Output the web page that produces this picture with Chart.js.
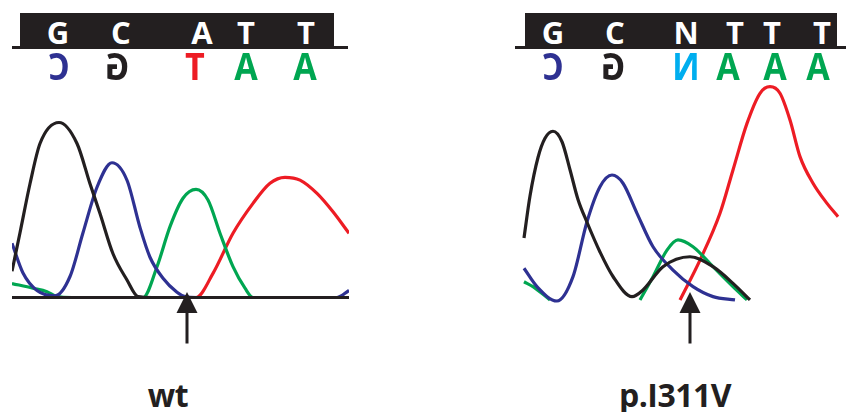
<!DOCTYPE html>
<html><head><meta charset="utf-8">
<script src="https://cdn.jsdelivr.net/npm/chart.js@4.4.0/dist/chart.umd.min.js"></script>
<style>
html,body{margin:0;padding:0;background:#fff;}
#root{position:relative;width:846px;height:412px;overflow:hidden;font-family:"Open Sans",sans-serif;font-weight:700;}
.cv{position:absolute;}
.bar{position:absolute;background:#231f20;}
.lt{position:absolute;line-height:1;white-space:nowrap;}
.top{font-size:31px;top:16.5px;color:#fff;transform:translateX(-50%);}
.bot{font-size:34px;top:48px;transform:translateX(-50%) scale(-1,1.12);}
.lbl{position:absolute;font-size:32px;line-height:1;top:378.6px;color:#231f20;transform:translateX(-50%);white-space:nowrap;letter-spacing:-0.5px;}
</style>
</head><body>
<div id="root">
  <div class="bar" style="left:20px;top:13px;width:314px;height:34px"></div>
  <div class="bar" style="left:12px;top:46px;width:336px;height:3px"></div>
  <div class="bar" style="left:525px;top:13px;width:312px;height:34px"></div>
  <div class="bar" style="left:515px;top:46px;width:331px;height:3px"></div>
  <canvas id="cL" class="cv" width="337" height="280" style="left:12px;top:70px"></canvas>
  <canvas id="cR" class="cv" width="346" height="280" style="left:500px;top:70px"></canvas>
  <div class="lbl" style="left:168px">wt</div>
  <div class="lbl" style="left:675px">p.I311V</div>
</div>
<script>
// ---- Base calls (sequence letters) and their scan positions ----
const wtTopBases = ['G','C','A','T','T'];
const wtTopPos   = [46, 109, 190, 234, 294];
const wtBotBases = ['C','G','T','A','A'];
const wtBotPos   = [47, 105, 183, 234, 293];

const mutTopBases = ['G','C','N','T','T','T'];
const mutTopPos   = [53, 115, 186, 235, 272, 322];
const mutBotBases = ['C','G','N','A','A','A'];
const mutBotPos   = [53, 113, 186, 228, 275, 318];

// ---- wt trace (scan position, signal intensity) ----
const wtBlackX = [0, 8, 18, 28, 47, 65, 78, 88, 101, 115, 126, 140, 337];
const wtBlackY = [15, 37, 65, 88, 100, 88, 65, 48, 25, 10, 0.5, 0, 0];
const wtBlueX  = [0, 11, 25, 43, 58, 71, 85, 100, 115, 128, 138, 151, 165, 173, 185, 325, 337];
const wtBlueY  = [31, 14, 4, 1, 12, 37, 63, 77, 67, 40, 23, 11, 3, 0.5, 0, 0, 4];
const wtGreenX = [0, 21, 35, 45, 60, 131, 145, 158, 171, 184, 196, 208, 221, 233, 241, 255, 337];
const wtGreenY = [8, 5.3, 3.3, 0.5, 0, 0, 17.6, 40.5, 56.7, 61.8, 55.7, 36.7, 17.6, 5.3, 0, 0, 0];
const wtRedX   = [0, 184, 201, 221, 241, 258, 273, 288, 305, 321, 337];
const wtRedY   = [0, 0, 13.8, 36.7, 53.8, 65.3, 68.7, 67.1, 59.5, 49, 36.7];

// ---- p.I311V trace ----
const mutBlackX = [24, 30, 38, 45, 53, 62, 70, 78, 87, 100, 113, 132, 143, 163, 190, 213, 233, 250];
const mutBlackY = [34, 58, 80, 91, 95, 89, 73, 56, 43, 26, 12, 0.5, 4.3, 17.6, 23.3, 17.6, 8.1, -1.4];
const mutBlueX  = [24, 37, 57, 73, 87, 100, 112, 123, 137, 153, 173, 193, 213, 235];
const mutBlueY  = [16.7, 6.2, -2, 11.9, 43.3, 63.3, 70, 65.3, 48.1, 29, 15.7, 6.2, 0.5, -1.4];
const mutGreenX = [24, 33, 50, 95, 140, 153, 167, 178, 193, 213, 233, 247];
const mutGreenY = [9, 6.2, -1.4, null, -1.4, 11.9, 27.1, 32.9, 29, 17.6, 6.2, -1.4];
const mutRedX   = [180, 200, 220, 233, 247, 260, 270, 280, 290, 300, 313, 327, 338];
const mutRedY   = [-1.4, 21.4, 48.1, 72.9, 99.5, 116.7, 120.5, 116.7, 101.4, 80.5, 65.3, 53.8, 46.2];

const wtArrowAt = 175;
const mutArrowAt = 190;

const baseColor = {A:'#00a651', C:'#2e3192', G:'#231f20', T:'#ed1c24', N:'#00aeef'};

function pts(xs, ys){ return xs.map((x,i)=>({x:x, y:ys[i]})); }
function ds(xs, ys, color){
  return {data: pts(xs, ys), borderColor: color, borderWidth: 3.2, fill: false, spanGaps: false,
          pointRadius: 0, cubicInterpolationMode: 'monotone'};
}

const deco = {
  id: 'deco',
  afterDatasetsDraw(chart, args, opts){
    const ctx = chart.ctx, xs = chart.scales.x, ys = chart.scales.y;
    const y0 = ys.getPixelForValue(0);
    ctx.save();
    if (opts.baseline){
      ctx.strokeStyle = '#231f20'; ctx.lineWidth = 3;
      ctx.beginPath(); ctx.moveTo(chart.chartArea.left, y0); ctx.lineTo(chart.chartArea.right, y0); ctx.stroke();
    }
    const ax = xs.getPixelForValue(opts.arrowAt);
    ctx.fillStyle = '#231f20';
    ctx.beginPath();
    ctx.moveTo(ax, y0 - 5.5);
    ctx.lineTo(ax + 10.5, y0 + 15.5);
    ctx.lineTo(ax - 10.5, y0 + 15.5);
    ctx.closePath(); ctx.fill();
    ctx.fillRect(ax - 1.5, y0 + 14, 3, 32);
    ctx.restore();
  }
};

function makeChart(id, maxX, sets, arrowAt, baseline){
  return new Chart(document.getElementById(id), {
    type: 'line',
    data: {datasets: sets},
    options: {
      responsive: false, animation: false, events: [],
      layout: {padding: 0},
      plugins: {legend: {display: false}, tooltip: {enabled: false},
                deco: {arrowAt: arrowAt, baseline: baseline}},
      scales: {
        x: {type: 'linear', min: 0, max: maxX, display: false},
        y: {type: 'linear', min: -30, max: 130, display: false}
      }
    },
    plugins: [deco]
  });
}

const chartL = makeChart('cL', 337, [
  ds(wtBlackX, wtBlackY, '#231f20'),
  ds(wtBlueX, wtBlueY, '#2e3192'),
  ds(wtGreenX, wtGreenY, '#00a651'),
  ds(wtRedX, wtRedY, '#ed1c24')
], wtArrowAt, true);

const chartR = makeChart('cR', 346, [
  ds(mutBlackX, mutBlackY, '#231f20'),
  ds(mutBlueX, mutBlueY, '#2e3192'),
  ds(mutGreenX, mutGreenY, '#00a651'),
  ds(mutRedX, mutRedY, '#ed1c24')
], mutArrowAt, false);

const root = document.getElementById('root');
function placeLetters(chart, canvasLeft, bases, positions, cls){
  bases.forEach((b, i)=>{
    const d = document.createElement('div');
    d.className = 'lt ' + cls;
    d.textContent = b;
    if (cls === 'bot') d.style.color = baseColor[b];
    d.style.left = (canvasLeft + chart.scales.x.getPixelForValue(positions[i])) + 'px';
    root.appendChild(d);
  });
}
placeLetters(chartL, 12, wtTopBases, wtTopPos, 'top');
placeLetters(chartL, 12, wtBotBases, wtBotPos, 'bot');
placeLetters(chartR, 500, mutTopBases, mutTopPos, 'top');
placeLetters(chartR, 500, mutBotBases, mutBotPos, 'bot');
</script>
</body></html>
